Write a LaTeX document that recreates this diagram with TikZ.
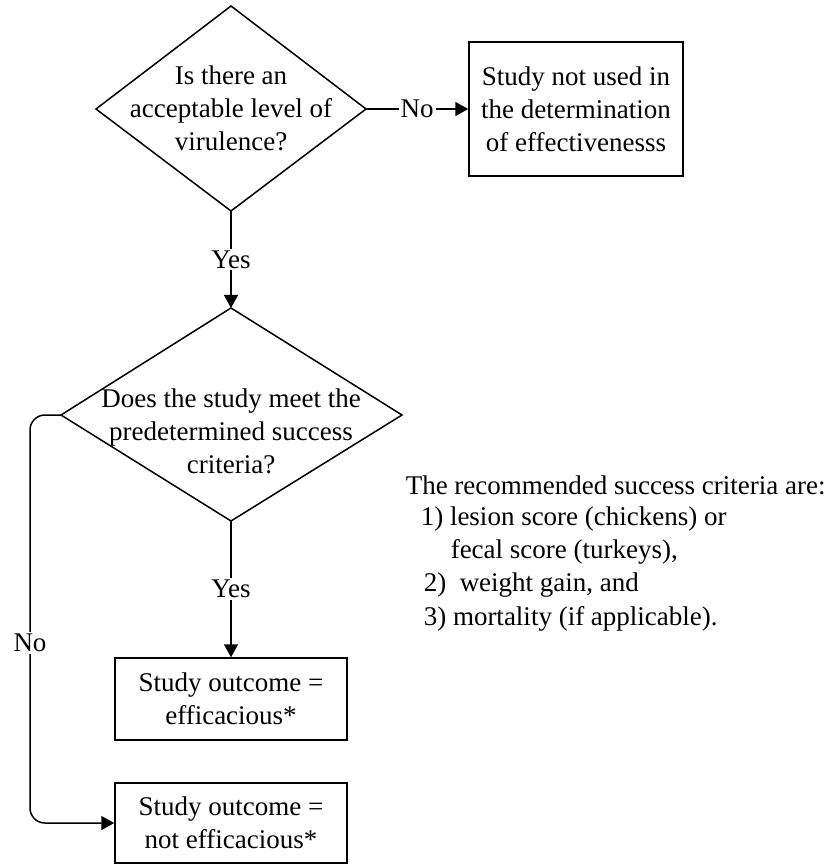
\documentclass[tikz,border=0pt]{standalone}
\usepackage{fontspec}
\setmainfont{Liberation Serif}
\usetikzlibrary{arrows.meta}
\begin{document}
\begin{tikzpicture}[x=0.5pt,y=-0.5pt, line width=0.75pt,
  txt/.style={font=\fontsize{13.5}{16.5}\selectfont, align=center, inner sep=0pt},
  side/.style={font=\fontsize{13.5}{16.5}\selectfont, anchor=west, inner sep=0pt},
  lbl/.style={font=\fontsize{13.5}{16.5}\selectfont, fill=white, inner sep=1pt},
  arr/.style={-{Triangle[length=6.5pt,width=7pt]}},
  boxst/.style={draw, font=\fontsize{13.5}{16.5}\selectfont, align=center, inner sep=0pt}]
\useasboundingbox (0,0) rectangle (829,865);
% diamond 1
\coordinate (d1t) at (231,6);
\coordinate (d1l) at (96,109);
\coordinate (d1r) at (366,109);
\coordinate (d1b) at (231,211);
\draw (d1t) -- (d1r) -- (d1b) -- (d1l) -- cycle;
\node[txt] (q1) at (231,108) {Is there an\\acceptable level of\\virulence?};
% box 1
\node[boxst, minimum width=107pt, minimum height=67pt] (box1) at (576,109)
  {Study not used in\\the determination\\of effectivenesss};
% diamond 2
\coordinate (d2t) at (231,308);
\coordinate (d2l) at (61,415);
\coordinate (d2r) at (402,415);
\coordinate (d2b) at (231,521);
\draw (d2t) -- (d2r) -- (d2b) -- (d2l) -- cycle;
\node[txt] (q2) at (231,431) {Does the study meet the\\predetermined success\\criteria?};
% outcome boxes
\node[boxst, minimum width=116pt, minimum height=41pt] (box2) at (231,699)
  {Study outcome =\\efficacious*};
\node[boxst, minimum width=116pt, minimum height=40pt] (box3) at (231,823)
  {Study outcome =\\not efficacious*};
% side text
\node[side] (s0) at (405,485) {The recommended success criteria are:};
\node[side] (s1) at (420,519) {1) lesion score (chickens) or};
\node[side] (s2) at (450,552) {fecal score (turkeys),};
\node[side] (s3) at (423,585) {2)\ \ weight gain, and};
\node[side] (s4) at (423,619) {3) mortality (if applicable).};
% connectors
\draw[arr] (d1r) -- node[lbl] (no1) {No} (box1.west);
\draw[arr] (d1b) -- node[lbl] (yes1) {Yes} (d2t);
\draw[arr] (d2b) -- node[lbl] (yes2) {Yes} (box2.north);
\coordinate (c1) at (30,415);
\coordinate (c2) at (30,823);
\draw[arr, rounded corners=7.5pt] (d2l) -- (c1) -- (c2) -- (box3.west);
\node[lbl] (no2) at (30,643) {No};
\end{tikzpicture}
\end{document}
